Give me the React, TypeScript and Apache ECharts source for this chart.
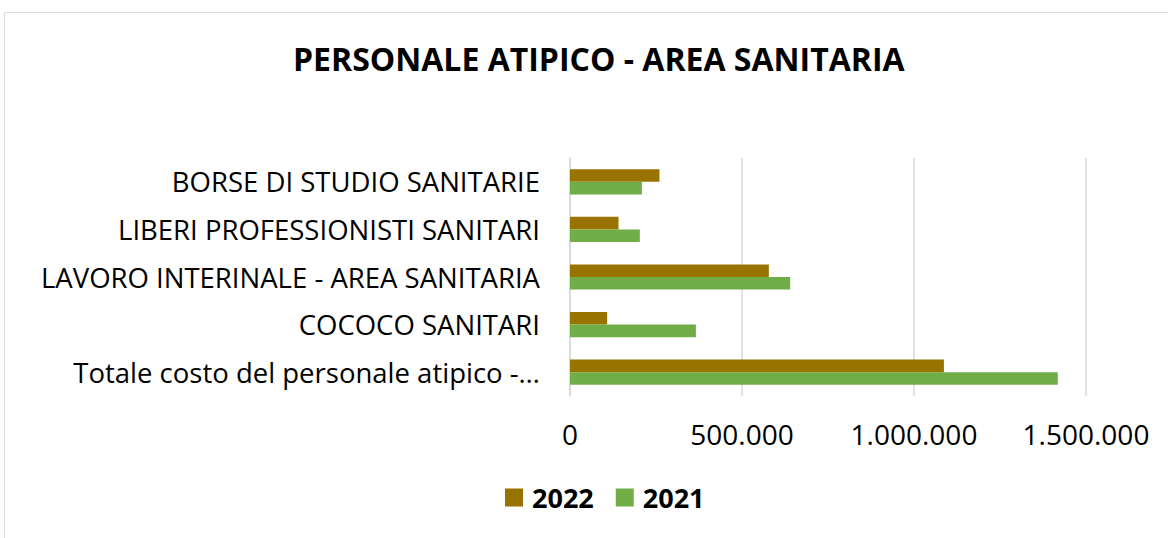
import React, { useEffect, useRef } from "react";
import * as echarts from "echarts";

const categories = [
  "BORSE DI STUDIO SANITARIE",
  "LIBERI PROFESSIONISTI SANITARI",
  "LAVORO INTERINALE - AREA SANITARIA",
  "COCOCO SANITARI",
  "Totale costo del personale atipico -…",
];
const values2022 = [260000, 141000, 578000, 108000, 1087000];
const values2021 = [209000, 203000, 640000, 366000, 1418000];
const xTicks = [0, 500000, 1000000, 1500000];

const fmt = (v: number) => String(Math.round(v)).replace(/\B(?=(\d{3})+(?!\d))/g, ".");

export default function App() {
  const ref = useRef<HTMLDivElement>(null);
  useEffect(() => {
    document.body.style.margin = "0";
    const chart = echarts.init(ref.current!, null, { renderer: "svg" });
    const font = "'Open Sans', sans-serif";
    chart.setOption({
      animation: false,
      backgroundColor: "#ffffff",
      title: {
        text: "PERSONALE ATIPICO - AREA SANITARIA",
        left: 288,
        top: 37,
        textStyle: { fontFamily: font, fontSize: 32, fontWeight: "bold", color: "#000000" },
      },
      graphic: [
        {
          type: "rect",
          shape: { x: 4.5, y: 12.5, width: 1180, height: 540 },
          style: { fill: "none", stroke: "#d9d9d9", lineWidth: 1 },
          silent: true,
        },
      ],
      legend: {
        bottom: 22,
        left: 500,
        itemWidth: 18,
        itemHeight: 18,
        itemGap: 22,
        icon: "rect",
        textStyle: {
          fontFamily: font,
          fontSize: 27,
          fontWeight: "bold",
          color: "#000000",
          padding: [0, 0, 0, 4],
        },
        data: ["2022", "2021"],
      },
      grid: { left: 570, right: 82, top: 158, bottom: 142, containLabel: false },
      xAxis: {
        type: "value",
        min: xTicks[0],
        max: xTicks[xTicks.length - 1],
        interval: 500000,
        axisLine: { show: false },
        axisTick: { show: false },
        splitLine: { show: true, lineStyle: { color: "#d9d9d9", width: 1.5 } },
        axisLabel: {
          formatter: (v: number) => fmt(v),
          fontFamily: font,
          fontSize: 28,
          color: "#000000",
          margin: 24,
        },
      },
      yAxis: {
        type: "category",
        inverse: true,
        data: categories,
        axisLine: { show: true, lineStyle: { color: "#d9d9d9", width: 1.5 } },
        axisTick: { show: false },
        axisLabel: { fontFamily: font, fontSize: 27.5, color: "#000000", margin: 30 },
      },
      series: [
        {
          name: "2022",
          type: "bar",
          data: values2022,
          itemStyle: { color: "#997300" },
          barGap: "0%",
          barCategoryGap: "47%",
        },
        {
          name: "2021",
          type: "bar",
          data: values2021,
          itemStyle: { color: "#70ad47" },
          barGap: "0%",
          barCategoryGap: "47%",
        },
      ],
    });
    return () => chart.dispose();
  }, []);
  return <div ref={ref} style={{ width: 1168, height: 538 }} />;
}
